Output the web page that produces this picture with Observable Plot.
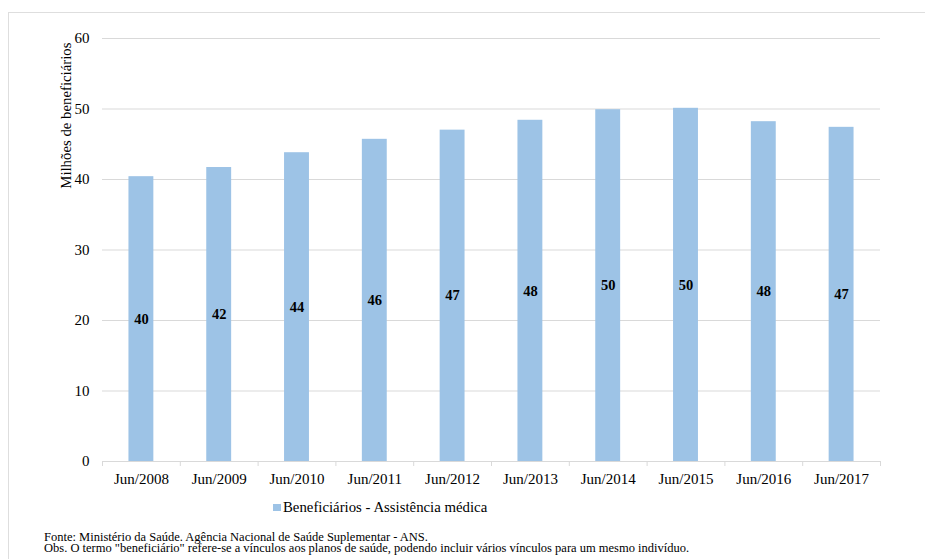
<!DOCTYPE html>
<html>
<head>
<meta charset="utf-8">
<script src="https://cdn.jsdelivr.net/npm/d3@7"></script>
<script src="https://cdn.jsdelivr.net/npm/@observablehq/plot@0.6"></script>
<style>
  body { margin: 0; background: #fff; font-family: "Liberation Serif", "Times New Roman", serif; color: #000; }
  #wrap { position: relative; width: 925px; height: 559px; overflow: hidden; }
  #frame { position: absolute; left: 8px; top: 12px; width: 1000px; height: 1000px; border: 1px solid #dedede; box-sizing: border-box; }
  #chart { position: absolute; left: 0; top: 0; }
  #legend { position: absolute; left: 273px; top: 497px; font-size: 14.8px; line-height: 20px; white-space: nowrap; }
  #legend .sw { display: inline-block; width: 7.5px; height: 7.5px; background: #9dc3e6; margin-right: 2.5px; vertical-align: 1px; }
  #notes { position: absolute; left: 44px; top: 531.5px; font-size: 12.5px; line-height: 11.5px; white-space: nowrap; }
</style>
</head>
<body>
<div id="wrap">
  <div id="frame"></div>
  <div id="chart"></div>
  <div id="legend"><span class="sw"></span>Beneficiários - Assistência médica</div>
  <div id="notes">
    <div>Fonte: Ministério da Saúde. Agência Nacional de Saúde Suplementar - ANS.</div>
    <div>Obs. O termo "beneficiário" refere-se a vínculos aos planos de saúde, podendo incluir vários vínculos para um mesmo indivíduo.</div>
  </div>
</div>
<script>
// Beneficiários de planos de assistência médica (milhões), junho de cada ano
const periods = ["Jun/2008", "Jun/2009", "Jun/2010", "Jun/2011", "Jun/2012",
                 "Jun/2013", "Jun/2014", "Jun/2015", "Jun/2016", "Jun/2017"];
const beneficiaries = [40.4, 41.7, 43.8, 45.7, 47.0, 48.4, 49.9, 50.1, 48.2, 47.4];
const yTicks = [0, 10, 20, 30, 40, 50, 60];
const yTitle = "Milhões de beneficiários";

const data = periods.map((period, i) => ({period, value: beneficiaries[i]}));

const width = 925, height = 559;
const marginLeft = 102, marginRight = 45, marginTop = 38, marginBottom = 98;
const step = (width - marginLeft - marginRight) / periods.length;
const gray = "#d9d9d9";
const font = "'Liberation Serif', 'Times New Roman', serif";

const chart = Plot.plot({
  width, height, marginLeft, marginRight, marginTop, marginBottom,
  style: {fontFamily: font, color: "#000", background: "transparent"},
  x: {domain: periods, paddingInner: 0.68, paddingOuter: 0.34, round: false},
  y: {domain: [0, 60]},
  marks: [
    Plot.gridY(yTicks, {stroke: gray, strokeOpacity: 1, strokeWidth: 1}),
    Plot.axisY(yTicks, {tickSize: 0, tickPadding: 13, fontSize: 15, fontFamily: font, label: null}),
    Plot.barY(data, {x: "period", y: "value", fill: "#9dc3e6"}),
    Plot.ruleY([0], {stroke: gray, strokeWidth: 1}),
    // category boundary ticks below the baseline
    Plot.ruleX(periods, {x: d => d, y1: 0, y2: 0, dx: -step / 2, insetBottom: -5, stroke: gray}),
    Plot.ruleX(periods.slice(-1), {x: d => d, y1: 0, y2: 0, dx: step / 2, insetBottom: -5, stroke: gray}),
    Plot.axisX({tickSize: 0, tickPadding: 12, fontSize: 15, fontFamily: font, label: null}),
    Plot.text(data, {
      x: "period", y: d => d.value / 2, text: d => d3.format("d")(Math.round(d.value)),
      fontSize: 14.5, fontWeight: "bold", fontFamily: font, fill: "#000"
    }),
    Plot.text([yTitle], {
      frameAnchor: "top-left", text: d => d, rotate: -90, textAnchor: "end",
      dx: -42, dy: 4, fontSize: 14.8, fontFamily: font, fill: "#000"
    })
  ]
});
document.getElementById("chart").appendChild(chart);
</script>
</body>
</html>
